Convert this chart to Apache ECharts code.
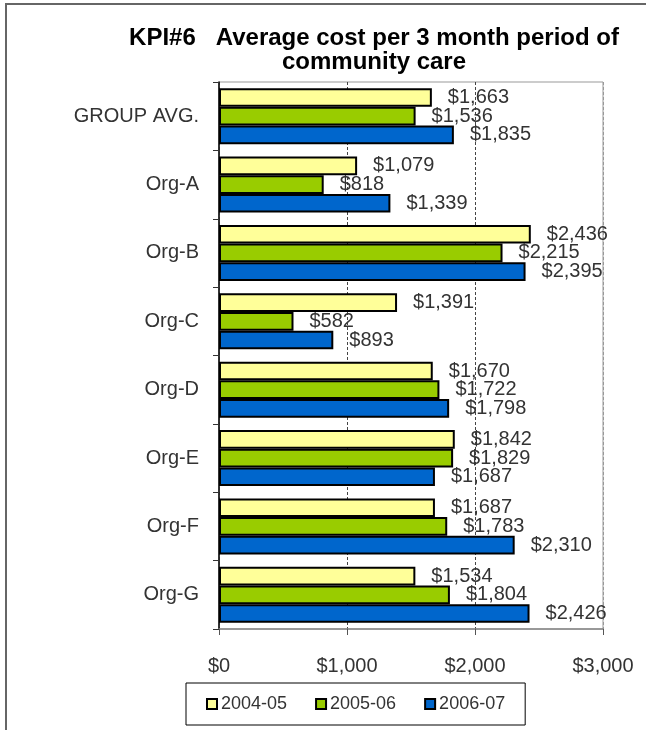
<!DOCTYPE html>
<html lang="en">
<head>
    <meta charset="UTF-8">
    <script src="https://cdn.jsdelivr.net/npm/echarts@6/dist/echarts.min.js"></script>
    <style>
        body { margin: 0; background: #fff; }
        #frame {
            position: absolute;
            left: 5px; top: 3px;
            width: 641px; height: 727px;
            border-top: 2px solid #666;
            border-left: 2px solid #666;
        }
        #kpi_chart { position: absolute; left: 0; top: 0; width: 646px; height: 730px; }
    </style>
</head>
<body>
<div id="frame"></div>
<div id="kpi_chart"></div>
<script type="text/javascript">
    const categories = ['GROUP AVG.', 'Org-A', 'Org-B', 'Org-C', 'Org-D', 'Org-E', 'Org-F', 'Org-G'];
    const years = ['2004-05', '2005-06', '2006-07'];
    const cost_0405 = [1663, 1079, 2436, 1391, 1670, 1842, 1687, 1534];
    const cost_0506 = [1536, 818, 2215, 582, 1722, 1829, 1783, 1804];
    const cost_0607 = [1835, 1339, 2395, 893, 1798, 1687, 2310, 2426];
    const colors = ['#FFFF99', '#99CC00', '#0066CC'];

    const font = 'Liberation Sans';
    const chart = echarts.init(document.getElementById('kpi_chart'));

    function money(v) {
        return '$' + v.toLocaleString('en-US');
    }

    function makeSeries(name, data, color) {
        return {
            name: name,
            type: 'bar',
            data: data,
            barGap: '0%',
            barCategoryGap: '18%',
            itemStyle: { color: color, borderColor: '#000', borderWidth: 2 },
            label: {
                show: true,
                position: 'right',
                distance: 16,
                fontFamily: font,
                fontSize: 20,
                color: '#333',
                formatter: function (p) { return money(p.value); }
            }
        };
    }

    chart.setOption({
        animation: false,
        title: {
            text: 'KPI#6   Average cost per 3 month period of\ncommunity care',
            left: 369,
            top: 21,
            textAlign: 'center',
            textStyle: {
                fontFamily: font,
                fontSize: 24,
                fontWeight: 'bold',
                color: '#000',
                lineHeight: 24
            }
        },
        legend: {
            data: years,
            left: 186,
            top: 683,
            width: 337,
            padding: [12, 20],
            itemGap: 28,
            itemWidth: 10,
            itemHeight: 10,
            icon: 'rect',
            borderColor: '#000',
            borderWidth: 1,
            textStyle: { fontFamily: font, fontSize: 18, color: '#333', padding: [0, 0, 0, -1] }
        },
        grid: {
            left: 219,
            right: 43,
            top: 82,
            bottom: 101,
            show: true,
            borderColor: '#999',
            borderWidth: 1
        },
        xAxis: {
            type: 'value',
            min: 0,
            max: 3000,
            interval: 1000,
            axisLine: { show: true, lineStyle: { color: '#888', width: 1.5 } },
            axisTick: { show: true, length: 6, lineStyle: { color: '#555' } },
            axisLabel: {
                margin: 27,
                fontFamily: font,
                fontSize: 20,
                color: '#333',
                formatter: money
            },
            splitLine: {
                show: true,
                lineStyle: { color: ['#999', '#444', '#444', '#999'], type: [3, 2] }
            }
        },
        yAxis: {
            type: 'category',
            data: categories,
            inverse: true,
            axisLine: { show: true, lineStyle: { color: '#000', width: 1.5 } },
            axisTick: { show: true, length: 6, lineStyle: { color: '#333' } },
            axisLabel: {
                margin: 20,
                fontFamily: font,
                fontSize: 20,
                color: '#333',
                padding: [0, 0, 6, 0]
            }
        },
        series: [
            makeSeries(years[0], cost_0405, colors[0]),
            makeSeries(years[1], cost_0506, colors[1]),
            makeSeries(years[2], cost_0607, colors[2])
        ]
    });
</script>
</body>
</html>
